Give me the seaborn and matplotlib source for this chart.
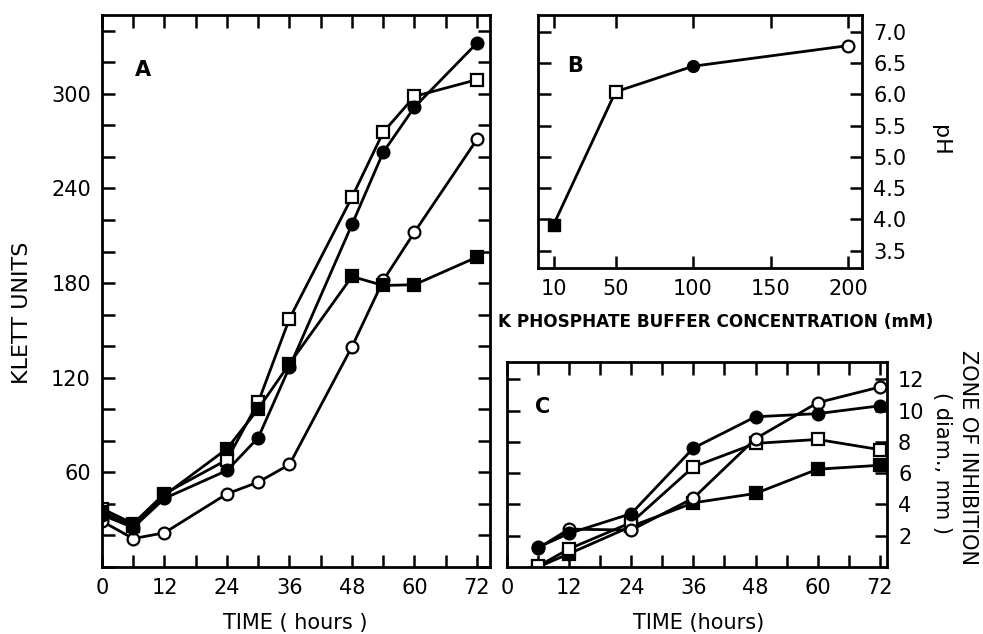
import numpy as np
import matplotlib
matplotlib.use("Agg")
import matplotlib.pyplot as plt
import seaborn as sns

# panel A : growth (Klett units) vs time
hours_a = [0, 6, 12, 24, 30, 36, 48, 54, 60, 72]
a_open_sq = [37, 27.5, 46.5, 68, 104.5, 157.5, 234.5, 275.7, 298.4, 309]
a_fill_ci = [33, 25, 43.5, 61.2, 82, 126.7, 217.2, 263, 291.6, 332.2]
a_open_ci = [29, 18, 21.7, 46.4, 53.8, 65, 139.7, 181.7, 212.3, 271.1]
a_fill_sq = [35, 26, 45.5, 75, 100.3, 128.9, 184.2, 178.5, 179, 196.5]

# panel B : pH vs buffer concentration
conc_b = [10, 50, 100, 200]
ph_b = [3.91, 6.04, 6.45, 6.78]

# panel C : zone of inhibition vs time
hours_c = [6, 12, 24, 36, 48, 60, 72]
c_fill_ci = [1.26, 2.15, 3.41, 7.6, 9.6, 9.8, 10.3]
c_open_ci = [1.2, 2.42, 2.36, 4.4, 8.2, 10.5, 11.5]
c_open_sq = [0.05, 1.16, 2.84, 6.4, 7.9, 8.15, 7.5]
c_fill_sq = [0.0, 0.85, 2.6, 4.1, 4.7, 6.25, 6.5]

sns.set_style("ticks")
plt.rcParams['font.family'] = ['DejaVu Sans']
plt.rcParams['text.color'] = 'black'
plt.rcParams['xtick.color'] = 'black'
plt.rcParams['ytick.color'] = 'black'
plt.rcParams['axes.edgecolor'] = 'black'

fig = plt.figure(figsize=(9.83, 6.34), dpi=100)

W, H = 983.0, 634.0
def box(l, t, r, b):
    return [l / W, 1 - b / H, (r - l) / W, (b - t) / H]

axA = fig.add_axes(box(102, 15, 490, 567))
axB = fig.add_axes(box(538, 15, 862, 268))
axC = fig.add_axes(box(507, 362, 887, 567))

lw = 2.0
ms = 8.5

def draw(ax, x, y, marker, filled, ms=ms):
    sns.lineplot(x=x, y=y, ax=ax, color='black', linewidth=lw, marker=marker,
                 markersize=ms, markerfacecolor='black' if filled else 'white',
                 markeredgecolor='black', markeredgewidth=1.6, sort=False)

# order of drawing so the filled markers sit on top
draw(axA, hours_a, a_open_ci, 'o', False)
draw(axA, hours_a, a_open_sq, 's', False)
draw(axA, hours_a, a_fill_ci, 'o', True)
draw(axA, hours_a, a_fill_sq, 's', True)

draw(axB, conc_b, ph_b, None, False)
axB.plot(conc_b[0], ph_b[0], 's', color='black', ms=ms)
axB.plot(conc_b[1], ph_b[1], 's', mfc='white', mec='black', mew=1.6, ms=ms)
axB.plot(conc_b[2], ph_b[2], 'o', color='black', ms=ms)
axB.plot(conc_b[3], ph_b[3], 'o', mfc='white', mec='black', mew=1.6, ms=ms)

draw(axC, hours_c, c_fill_sq, 's', True)
draw(axC, hours_c, c_open_sq, 's', False)
draw(axC, hours_c, c_open_ci, 'o', False)
draw(axC, hours_c, c_fill_ci, 'o', True)

fs = 15
for ax in (axA, axB, axC):
    for sp in ax.spines.values():
        sp.set_visible(True)
        sp.set_linewidth(2)
        sp.set_color('black')
    ax.tick_params(direction='in', length=9, width=1.8, top=True, right=True,
                   left=True, bottom=True, labelsize=fs, pad=8, colors='black')
    ax.set_xlabel('')
    ax.set_ylabel('')

# panel A axes
axA.set_xlim(0, 74.5)
axA.set_ylim(0, 350)
axA.set_xticks(np.arange(0, 73, 6))
axA.set_xticklabels([str(t) if t % 12 == 0 else '' for t in range(0, 73, 6)])
axA.set_yticks(np.arange(0, 341, 20))
axA.set_yticklabels([str(v) if v % 60 == 0 and v > 0 else '' for v in range(0, 341, 20)])
axA.text(0.105, 0.9, 'A', transform=axA.transAxes, fontsize=15, fontweight='bold',
         ha='center', va='center')

# panel B axes
axB.set_xlim(0, 209)
axB.set_ylim(3.22, 7.27)
axB.set_xticks([10, 50, 100, 150, 200])
axB.set_yticks(np.arange(3.5, 7.01, 0.5))
axB.set_yticklabels(['%.1f' % v for v in np.arange(3.5, 7.01, 0.5)])
axB.tick_params(labelleft=False, labelright=True)
axB.text(0.115, 0.8, 'B', transform=axB.transAxes, fontsize=15, fontweight='bold',
         ha='center', va='center')

# panel C axes
axC.set_xlim(0, 73.4)
axC.set_ylim(0, 13.1)
axC.set_xticks(np.arange(0, 73, 6))
axC.set_xticklabels([str(t) if t % 12 == 0 else '' for t in range(0, 73, 6)])
axC.set_yticks(np.arange(2, 13, 2))
axC.tick_params(labelleft=False, labelright=True)
axC.text(0.095, 0.78, 'C', transform=axC.transAxes, fontsize=15, fontweight='bold',
         ha='center', va='center')

# axis titles placed in figure coords
def ftext(x, y, s, size=15, **kw):
    fig.text(x / W, 1 - y / H, s, ha='center', va='center', fontsize=size, **kw)

ftext(22, 313, 'KLETT UNITS', rotation=90, size=16)
ftext(295, 623, 'TIME ( hours )')
ftext(716, 322, 'K PHOSPHATE BUFFER CONCENTRATION (mM)', size=12.2, fontweight='bold')
ftext(940, 140, 'pH', rotation=270, size=16)
ftext(699, 623, 'TIME (hours)')
ftext(968, 457, 'ZONE OF INHIBITION', rotation=270)
ftext(942, 463, '( diam., mm )', rotation=270)

fig.savefig('out.png', dpi=100)
